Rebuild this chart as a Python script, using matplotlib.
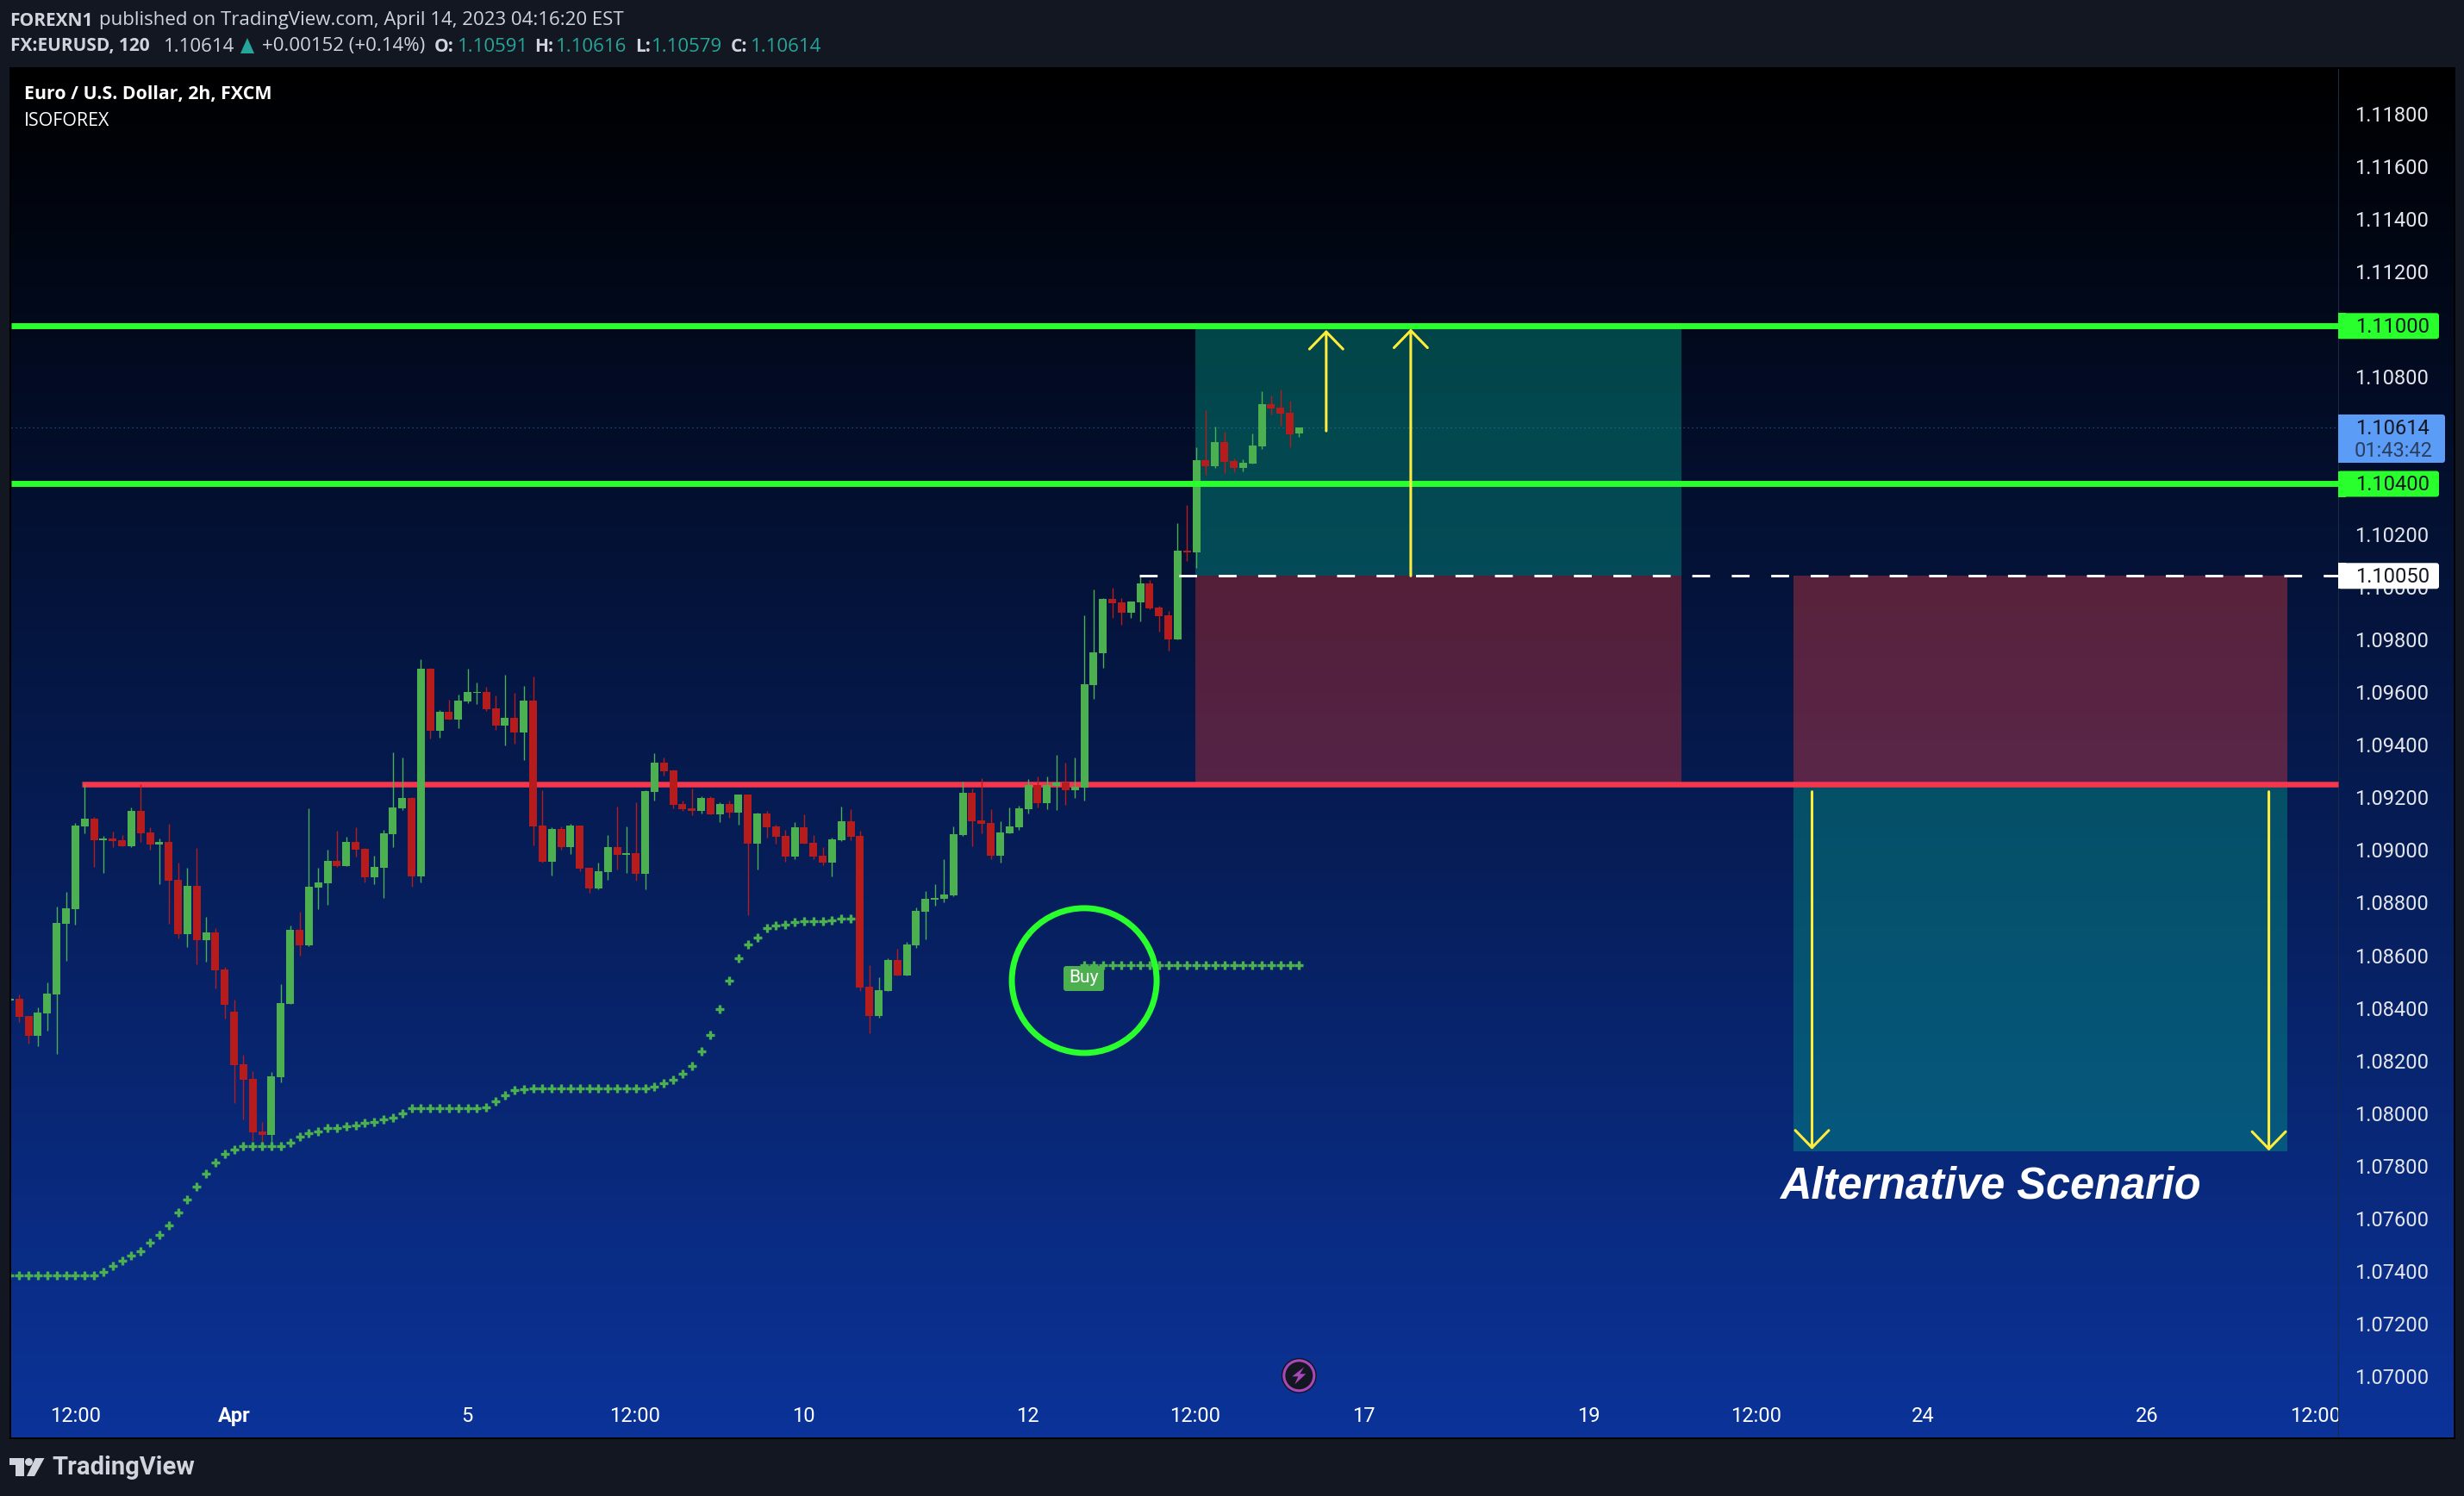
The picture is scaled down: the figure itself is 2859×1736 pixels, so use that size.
import numpy as np
import matplotlib
matplotlib.use("Agg")
import matplotlib.pyplot as plt
from matplotlib.patches import Rectangle, FancyBboxPatch, Ellipse, Circle, Polygon
from matplotlib.transforms import IdentityTransform, Bbox, Affine2D

W, H = 2859, 1736

opens = [
 1.08437,1.08443,1.08378,1.08301,1.08387,1.08459,1.08728,1.08784,1.09097,1.09127,
 1.09046,1.09051,1.09046,1.09023,1.09157,1.09074,1.09029,1.09039,1.08895,1.08688,
 1.08872,1.08665,1.08694,1.08554,1.08394,1.08193,1.08137,1.07938,1.07925,1.08144,
 1.08422,1.08705,1.08645,1.08865,1.08881,1.08967,1.08947,1.09039,1.09012,1.08904,
 1.08940,1.09069,1.09167,1.09206,1.08907,1.09697,1.09461,1.09533,1.09503,1.09573,
 1.09605,1.09609,1.09547,1.09480,1.09510,1.09454,1.09575,1.09101,1.08963,1.09088,
 1.09018,1.09101,1.08940,1.08862,1.08925,1.09019,1.08990,1.08996,1.08918,1.09229,
 1.09340,1.09311,1.09183,1.09166,1.09157,1.09206,1.09144,1.09183,1.09150,1.09219,
 1.09033,1.09146,1.09098,1.09061,1.08983,1.09095,1.09035,1.08987,1.08960,1.09045,
 1.09118,1.09061,1.08488,1.08376,1.08472,1.08590,1.08530,1.08645,1.08773,1.08819,
 1.08822,1.08836,1.09064,1.09226,1.09121,1.09111,1.08987,1.09072,1.09095,1.09164,
 1.09254,1.09187,1.09252,1.09265,1.09235,1.09245,1.09635,1.09757,1.09963,1.09950,
 1.09910,1.09950,1.10021,1.09930,1.09901,1.09808,1.10146,1.10139,1.10490,1.10467,
 1.10559,1.10487,1.10461,1.10477,1.10543,1.10703,1.10690,1.10670,1.10591]
highs = [
 1.08443,1.08459,1.08378,1.08411,1.08504,1.08792,1.08849,1.09111,1.09260,1.09134,
 1.09061,1.09077,1.09065,1.09169,1.09258,1.09095,1.09051,1.09107,1.08959,1.08942,
 1.09017,1.08755,1.08710,1.08565,1.08439,1.08229,1.08167,1.07976,1.08163,1.08498,
 1.08720,1.08775,1.09167,1.08940,1.09009,1.09080,1.09057,1.09096,1.09016,1.08985,
 1.09085,1.09378,1.09359,1.09209,1.09733,1.09702,1.09540,1.09579,1.09598,1.09697,
 1.09645,1.09628,1.09596,1.09674,1.09605,1.09631,1.09668,1.09236,1.09095,1.09097,
 1.09107,1.09101,1.08942,1.08960,1.09064,1.09173,1.09099,1.09189,1.09237,1.09375,
 1.09360,1.09314,1.09195,1.09242,1.09214,1.09211,1.09191,1.09195,1.09219,1.09219,
 1.09150,1.09157,1.09104,1.09084,1.09113,1.09145,1.09064,1.09019,1.09056,1.09173,
 1.09164,1.09081,1.08571,1.08525,1.08596,1.08632,1.08658,1.08789,1.08852,1.08877,
 1.08975,1.09099,1.09269,1.09242,1.09281,1.09162,1.09118,1.09169,1.09176,1.09277,
 1.09288,1.09288,1.09371,1.09340,1.09359,1.09900,1.09999,1.09966,1.10005,1.09966,
 1.09953,1.10048,1.10035,1.09937,1.09917,1.10251,1.10320,1.10539,1.10680,1.10618,
 1.10598,1.10496,1.10494,1.10592,1.10752,1.10735,1.10758,1.10716,1.10616]
lows = [
 1.08437,1.08354,1.08273,1.08262,1.08320,1.08232,1.08587,1.08724,1.09071,1.08944,
 1.08921,1.09018,1.09023,1.09018,1.09039,1.09009,1.08879,1.08728,1.08672,1.08638,
 1.08573,1.08583,1.08482,1.08367,1.08048,1.07984,1.07902,1.07882,1.07882,1.08125,
 1.08422,1.08606,1.08642,1.08784,1.08800,1.08944,1.08947,1.08983,1.08884,1.08879,
 1.08826,1.09018,1.09160,1.08868,1.08884,1.09431,1.09435,1.09503,1.09471,1.09566,
 1.09563,1.09536,1.09464,1.09406,1.09412,1.09350,1.09025,1.08960,1.08911,1.09009,
 1.08993,1.08927,1.08846,1.08858,1.08895,1.08933,1.08921,1.08891,1.08858,1.09196,
 1.09291,1.09166,1.09157,1.09142,1.09147,1.09144,1.09114,1.09130,1.09104,1.08760,
 1.08934,1.09056,1.09033,1.08964,1.08973,1.09033,1.08973,1.08950,1.08907,1.09042,
 1.09046,1.08472,1.08312,1.08372,1.08472,1.08530,1.08530,1.08636,1.08668,1.08796,
 1.08811,1.08833,1.09061,1.09022,1.09072,1.08973,1.08960,1.09072,1.09084,1.09146,
 1.09169,1.09164,1.09160,1.09180,1.09206,1.09196,1.09583,1.09701,1.09890,1.09864,
 1.09890,1.09877,1.09923,1.09839,1.09766,1.09808,1.10107,1.10081,1.10434,1.10461,
 1.10441,1.10445,1.10447,1.10477,1.10532,1.10663,1.10621,1.10539,1.10579]
closes = [
 1.08443,1.08375,1.08301,1.08390,1.08462,1.08731,1.08786,1.09101,1.09127,1.09046,
 1.09051,1.09042,1.09023,1.09157,1.09071,1.09029,1.09039,1.08891,1.08688,1.08872,
 1.08665,1.08694,1.08550,1.08420,1.08190,1.08134,1.07935,1.07925,1.08148,1.08426,
 1.08705,1.08645,1.08868,1.08884,1.08967,1.08947,1.09039,1.09009,1.08904,1.08944,
 1.09071,1.09169,1.09206,1.08907,1.09697,1.09461,1.09533,1.09503,1.09575,1.09609,
 1.09609,1.09543,1.09480,1.09510,1.09454,1.09575,1.09097,1.08963,1.09088,1.09018,
 1.09101,1.08937,1.08862,1.08927,1.09019,1.08990,1.08996,1.08918,1.09232,1.09340,
 1.09307,1.09180,1.09164,1.09157,1.09206,1.09144,1.09183,1.09150,1.09219,1.09033,
 1.09146,1.09095,1.09058,1.08983,1.09095,1.09033,1.08983,1.08960,1.09049,1.09118,
 1.09058,1.08484,1.08376,1.08475,1.08590,1.08530,1.08648,1.08776,1.08822,1.08826,
 1.08838,1.09068,1.09226,1.09118,1.09107,1.08987,1.09075,1.09098,1.09166,1.09254,
 1.09187,1.09254,1.09265,1.09235,1.09249,1.09638,1.09759,1.09963,1.09946,1.09910,
 1.09953,1.10021,1.09926,1.09897,1.09808,1.10146,1.10139,1.10490,1.10467,1.10559,
 1.10483,1.10461,1.10480,1.10545,1.10703,1.10687,1.10667,1.10589,1.10614]

cross_a = [
 1.07390,1.07390,1.07390,1.07390,1.07390,1.07390,1.07390,1.07390,1.07390,1.07390,
 1.07406,1.07426,1.07446,1.07466,1.07482,1.07515,1.07544,1.07580,1.07629,1.07678,
 1.07728,1.07777,1.07819,1.07852,1.07869,1.07882,1.07882,1.07882,1.07882,1.07882,
 1.07897,1.07920,1.07932,1.07940,1.07950,1.07952,1.07957,1.07962,1.07971,1.07975,
 1.07985,1.07992,1.08008,1.08027,1.08027,1.08027,1.08027,1.08027,1.08027,1.08027,
 1.08027,1.08031,1.08054,1.08075,1.08094,1.08098,1.08103,1.08103,1.08103,1.08103,
 1.08103,1.08103,1.08103,1.08103,1.08103,1.08103,1.08103,1.08103,1.08103,1.08108,
 1.08121,1.08134,1.08157,1.08186,1.08242,1.08304,1.08402,1.08510,1.08598,1.08650,
 1.08676,1.08710,1.08720,1.08726,1.08733,1.08736,1.08736,1.08736,1.08740,1.08749,
 1.08749]
cross_b_start = 115
cross_b = [1.08572] * 24

y_ticks = [1.070,1.072,1.074,1.076,1.078,1.080,1.082,1.084,1.086,1.088,1.090,1.092,1.094,
           1.096,1.098,1.100,1.102,1.104,1.106,1.108,1.110,1.112,1.114,1.116,1.118]
x_tick_pos = [7.06,24.0,48.9,66.9,85.0,108.9,126.9,144.9,169.0,186.9,204.8,228.8,246.8]
x_tick_txt = ["12:00","Apr","5","12:00","10","12","12:00","17","19","12:00","24","26","12:00"]

res_high, res_low, entry, support, tp_low = 1.11000, 1.10400, 1.10050, 1.09260, 1.07862
last_price = 1.10614
box1_x = (126.9, 178.9)
box2_x = (190.9, 243.8)
red_x0, dash_x0, pane_x1 = 7.7, 120.9, 249.2

BG, FG = "#131722", "#d1d4dc"
UP, DOWN = "#4caf50", "#b71c1c"
LIME, RED, TEAL = "#29ff2c", "#f5364c", "#26a69a"
YEL = "#ffeb3b"
ZONE_G, ZONE_R = "#049a86", "#cc3239"

fig = plt.figure(figsize=(W/100, H/100), dpi=100, facecolor=BG)
plt.rcParams["font.family"] = "Open Sans"

def px_rect(x0, y0, x1, y1, **kw):
    r = Rectangle((x0, H-y1), x1-x0, y1-y0, transform=IdentityTransform(), **kw)
    fig.add_artist(r); return r

def px_text(x, y, s, **kw):
    kw.setdefault("va", "center"); kw.setdefault("ha", "left")
    return fig.text(x/W, 1-y/H, s, **kw)

px_rect(11, 78, 2849, 1670, fc="black", ec="none", zorder=-5)

L, R, T, B = 13, 2847, 80, 1668
ax = fig.add_axes([L/W, 1-B/H, (R-L)/W, (B-T)/H], zorder=1)
PX = 10.84
xl, xr = 1+(L-22.3)/PX, 1+(R-22.3)/PX
ylim = (1.11-(B-378.3)*3.2755e-5, 1.11+(378.3-T)*3.2755e-5)

grad = np.linspace(0, 1, 512).reshape(-1, 1, 1) * np.array([0x0b, 0x33, 0x99]).reshape(1, 1, 3) / 255
ax.imshow(grad, extent=(0, 1, 0, 1), transform=ax.transAxes, aspect="auto", zorder=0, origin="upper")
ax.set_xlim(xl, xr)
ax.set_ylim(*ylim)

for s in ax.spines.values():
    s.set_visible(False)

# zones
ax.add_patch(Rectangle((box1_x[0], entry), box1_x[1]-box1_x[0], res_high-entry, fc=ZONE_G, alpha=.42, ec="none", zorder=1))
ax.add_patch(Rectangle((box1_x[0], support), box1_x[1]-box1_x[0], entry-support, fc=ZONE_R, alpha=.4, ec="none", zorder=1))
ax.add_patch(Rectangle((box2_x[0], support), box2_x[1]-box2_x[0], entry-support, fc="#d83a40", alpha=.4, ec="none", zorder=1))
ax.add_patch(Rectangle((box2_x[0], tp_low), box2_x[1]-box2_x[0], support-tp_low, fc=ZONE_G, alpha=.42, ec="none", zorder=1))

ax.plot([xl, pane_x1], [last_price]*2, color="#3f78b8", lw=0.9, ls=(0, (1, 3)), alpha=.7, zorder=1.5)
ax.plot([red_x0, pane_x1], [support]*2, color=RED, lw=4.7, zorder=2, solid_capstyle="butt")
ax.axvline(pane_x1, color="#1b2a45", lw=0.8, zorder=1)

# candles
o, h, l, c = map(np.array, (opens, highs, lows, closes))
x = np.arange(len(o))
cols = np.where(c >= o, UP, DOWN)
ax.vlines(x, l, h, colors=cols, lw=1.0, zorder=3)
ax.bar(x, np.abs(c-o), bottom=np.minimum(o, c), width=9/PX, color=cols, lw=0, zorder=3.1)

# indicator
ms, mew = 7.0, 2.4
ax.plot(np.arange(len(cross_a)), cross_a, ls="none", marker="+", ms=ms, mew=mew, color=UP, zorder=4)
ax.plot(np.arange(len(cross_b))+cross_b_start, cross_b, ls="none", marker="+", ms=ms, mew=mew, color=UP, zorder=4)

# levels
for lv in (res_high, res_low):
    ax.plot([xl, pane_x1], [lv]*2, color=LIME, lw=5.0, zorder=5, solid_capstyle="butt")
ax.plot([dash_x0, pane_x1], [entry]*2, color="white", lw=2.1, ls=(0, (7.1, 8.6)), zorder=5)

# arrows
def arrow(xi, p0, p1):
    ax.annotate("", xy=(xi, p1), xytext=(xi, p0), zorder=6,
                arrowprops=dict(arrowstyle="->,head_length=14.4,head_width=14", color=YEL, lw=2.2,
                                shrinkA=0, shrinkB=0, mutation_scale=1, capstyle="round"))
arrow(140.9, 1.10601, 1.10985)
arrow(149.95, 1.10050, 1.10990)
arrow(192.9, 1.09230, 1.07870)
arrow(241.8, 1.09230, 1.07865)

ax.add_patch(Ellipse((115, 1.08512), 168/PX, 168*3.2755e-5, fc="none", ec=LIME, lw=5, zorder=6))

# axes labels
ax.xaxis.tick_bottom()
ax.set_xticks(x_tick_pos); ax.set_xticklabels(x_tick_txt)
ax.yaxis.tick_right()
ax.set_yticks(y_ticks); ax.set_yticklabels([f"{t:.5f}" for t in y_ticks])
ax.tick_params(axis="y", length=0, pad=-83, labelsize=17, labelcolor="#e4e6ec")
ax.tick_params(axis="x", length=0, pad=-26, labelsize=17, labelcolor="white")
for tk in ax.yaxis.get_major_ticks():
    t = tk.label2
    t.set_fontfamily("Roboto"); t.set_ha("left"); t.set_va("center_baseline")
    t.set_transform(t.get_transform() + Affine2D().translate(0, 2.5))
clip = Bbox.from_extents(L, 0, 2713, H)
for t in ax.get_xticklabels():
    t.set_fontfamily("Roboto")
    t.set_clip_on(True); t.set_clip_box(clip)
    if t.get_text() == "Apr":
        t.set_fontweight("bold")

# Alternative scenario
px_text(2065, 1377, "Alternative Scenario", color="white", fontsize=36.4, fontfamily="Liberation Sans",
        fontweight="bold", fontstyle="italic", zorder=6)

# Buy tag
fig.add_artist(FancyBboxPatch((1236, H-1148), 43, 25, boxstyle="round,pad=2,rounding_size=3",
                              transform=IdentityTransform(), fc=UP, ec="none", zorder=5))
px_text(1257.5, 1135, "Buy", ha="center", color="white", fontsize=15, fontfamily="Roboto", zorder=6)

# price labels
def tag(y, txt, fc, x1=2830, h=30):
    fig.add_artist(FancyBboxPatch((2713+3, H-y-h/2+3), x1-2713-6, h-6, boxstyle="round,pad=3,rounding_size=3",
                                  transform=IdentityTransform(), fc=fc, ec="none", zorder=5))
    px_rect(2713, y-h/2, 2722, y+h/2, fc=fc, ec="none", zorder=5)
    if txt:
        px_text(2733.3, y-1, txt, color="#131722", fontsize=17, fontfamily="Roboto", va="center_baseline", zorder=6)

tag(378.3, "1.11000", LIME)
tag(561.5, "1.10400", LIME)
tag(668.3, "1.10050", "white")
tag(509, "", "#5b9cf6", x1=2837, h=56)
px_text(2733.3, 495, "1.10614", color="#131722", fontsize=17, fontfamily="Roboto", va="center_baseline", zorder=6)
px_text(2731.5, 520.5, "01:43:42", color="#2b3f63", fontsize=17, fontfamily="Roboto", va="center_baseline", zorder=6)

# bolt badge
cx, cy = 1507.3, H-1596.3
fig.add_artist(Circle((cx, cy), 20.5, transform=IdentityTransform(), fc=BG, ec="none", zorder=5))
fig.add_artist(Circle((cx, cy), 17.5, transform=IdentityTransform(), fc="none", ec="#ab47bc", lw=2.2, zorder=5))
fig.add_artist(Polygon(np.array([[6, 10], [-8, -1], [-1, -1], [-5, -10], [8, 2], [1, 2]])+[cx, cy],
                       transform=IdentityTransform(), fc="#ab47bc", ec="none", zorder=5))

# header
HS, HB = 16, 15
px_text(11.5, 24, "FOREXN1", color=FG, fontsize=HB, fontweight="bold", zorder=6)
px_text(115, 24, "published on TradingView.com, April 14, 2023 04:16:20 EST", color=FG, fontsize=HS, zorder=6)
px_text(11.5, 54, "FX:EURUSD, 120", color=FG, fontsize=HB, fontweight="bold", zorder=6)
px_text(190, 54, "1.10614", color=FG, fontsize=HS, zorder=6)
fig.add_artist(Polygon([[279, H-62], [295, H-62], [287, H-44]], transform=IdentityTransform(), fc=TEAL, ec="none", zorder=6))
px_text(304, 54, "+0.00152 (+0.14%)", color=FG, fontsize=HS, zorder=6)
for xp, s, xv, v in [(504, "O:", 530.6, "1.10591"), (620.5, "H:", 645, "1.10616"),
                     (737, "L:", 756, "1.10579"), (848, "C:", 870.5, "1.10614")]:
    px_text(xp, 54, s, color=FG, fontsize=HB, fontweight="bold", zorder=6)
    px_text(xv, 54, v, color=TEAL, fontsize=HS, zorder=6)
px_text(28, 110, "Euro / U.S. Dollar, 2h, FXCM", color="white", fontsize=15.4, fontweight="bold", zorder=6)
px_text(28, 141, "ISOFOREX", color="white", fontsize=15.4, zorder=6)

# footer logo
for verts in ([[11, 1692], [28, 1692], [28, 1713], [18, 1713], [18, 1700], [11, 1700]],
              [[41, 1692], [51.5, 1692], [40, 1713], [31, 1713]]):
    fig.add_artist(Polygon([[a, H-b] for a, b in verts], transform=IdentityTransform(), fc=FG, ec="none", zorder=5))
fig.add_artist(Circle((33.5, H-1696.5), 4.5, transform=IdentityTransform(), fc=FG, ec="none", zorder=5))
px_text(60, 1703, "TradingView", color=FG, fontsize=21, fontfamily="Roboto", fontweight="bold", zorder=6)

fig.savefig("out.png", dpi=100, facecolor=BG)
